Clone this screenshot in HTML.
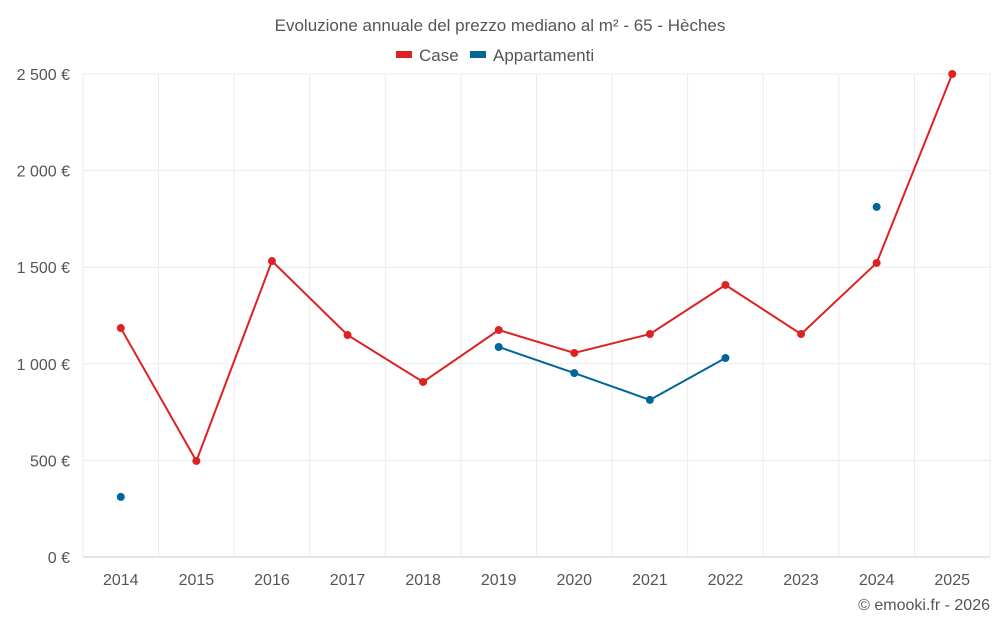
<!DOCTYPE html>
<html><head><meta charset="utf-8"><style>
body{margin:0;background:#fff;font-family:"Liberation Sans",sans-serif}
svg text{font-family:"Liberation Sans",sans-serif}
</style></head><body>
<svg id="c" width="1000" height="625">
<text x="500" y="31" text-anchor="middle" font-size="17" fill="#555">Evoluzione annuale del prezzo mediano al m² - 65 - Hèches</text>
<g><rect x="396" y="51" width="16" height="7" fill="#dd2222"/><text x="419" y="61" font-size="17" fill="#555">Case</text></g>
<g><rect x="470" y="51" width="16" height="7" fill="#006699"/><text x="493" y="61" font-size="17" fill="#555">Appartamenti</text></g>
<text x="990" y="610" text-anchor="end" font-size="16" fill="#555">© emooki.fr - 2026</text>
<g id="grid"></g><g id="axes"></g><g id="series"></g>
</svg>
<script>
const years=[2014,2015,2016,2017,2018,2019,2020,2021,2022,2023,2024,2025];
const casePrices=[1185,497,1532,1149,906,1175,1056,1154,1408,1154,1522,2500];
const apptPrices=[311,null,null,null,null,1087,952,813,1030,null,1812,null];
const yTicks=[0,500,1000,1500,2000,2500];
const yTickLabels=["0 €","500 €","1 000 €","1 500 €","2 000 €","2 500 €"];
const L=83,R=990,T=74,B=557;
const step=(R-L)/years.length;
const x=i=>L+step*(i+0.5);
const y=v=>B-(v/2500)*(B-T);
const NS="http://www.w3.org/2000/svg";
function mk(tag,attrs,parent){const e=document.createElementNS(NS,tag);for(const k in attrs)e.setAttribute(k,attrs[k]);parent.appendChild(e);return e;}
const grid=document.getElementById('grid'),axes=document.getElementById('axes'),ser=document.getElementById('series');
yTicks.forEach((v,i)=>{
 const l=mk('line',{x1:L,x2:R,y1:y(v),y2:y(v),stroke:i===0?'#ccc':'#ebebeb'},grid);
 
 
 const t=mk('text',{x:70,y:y(v)+6,'text-anchor':'end','font-size':16,fill:'#555'},axes);
 t.textContent=yTickLabels[i];
 
 
});
for(let i=0;i<=years.length;i++){
 const l=mk('line',{x1:L+step*i,x2:L+step*i,y1:T,y2:B,stroke:'#ebebeb'},grid);
 
 
}
years.forEach((yr,i)=>{
 const t=mk('text',{x:x(i),y:585,'text-anchor':'middle','font-size':16,fill:'#555'},axes);
 t.textContent=yr;
 
 
});
function draw(vals,color,name){
 let seg=[];
 const flush=()=>{if(seg.length>1){const p=mk('polyline',{points:seg.join(' '),fill:'none',stroke:color,'stroke-width':2},ser);
  
  }seg=[];};
 vals.forEach((v,i)=>{if(v==null){flush();return;}seg.push(x(i)+','+y(v));});
 flush();
 vals.forEach((v,i)=>{if(v==null)return;
  const c=mk('circle',{cx:x(i),cy:y(v),r:4,fill:color},ser);
  
  });
}
draw(casePrices,'#dd2222','case');
draw(apptPrices,'#006699','appartamenti');
</script>
</body></html>
